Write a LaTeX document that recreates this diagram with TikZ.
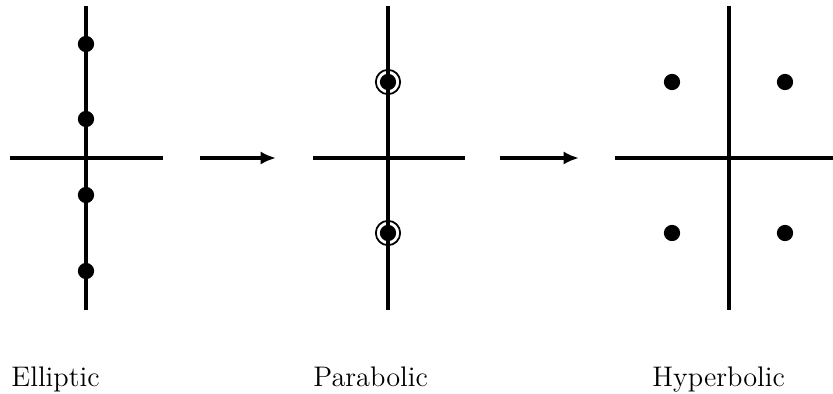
\documentclass[tikz,border=0pt]{standalone}
\usetikzlibrary{arrows.meta,positioning}

\begin{document}
\begin{tikzpicture}[x=0.016cm,y=0.016cm,
    axis/.style={line width=1.4pt},
    thickaxis/.style={line width=1.8pt},
    pole/.style={circle,fill=black,inner sep=0pt,minimum size=0.26cm},
    ring/.style={circle,draw=black,line width=0.8pt,inner sep=0pt,minimum size=0.39cm},
    flow/.style={line width=1.4pt,-{Latex[length=7pt,width=6pt]}},
    caption/.style={anchor=base west,inner sep=0pt,font=\fontsize{12.9}{15}\selectfont}]
  \useasboundingbox (0,0) rectangle (833,393);

  % Elliptic: four poles on the imaginary axis
  \draw[axis] (86,83) -- (86,387);
  \draw[axis] (10,235) -- (163,235);
  \foreach \y [count=\i] in {349,274,198,122} {
    \node[pole] (e\i) at (86,\y) {};
  }

  % Parabolic: two double poles
  \draw[axis] (388,83) -- (388,387);
  \draw[axis] (313,235) -- (465,235);
  \foreach \y [count=\i] in {311,160} {
    \node[pole] (p\i) at (388,\y) {};
    \node[ring] (r\i) at (388,\y) {};
  }

  % Hyperbolic: poles off the axes
  \draw[thickaxis] (729,83) -- (729,387);
  \draw[thickaxis] (615,235) -- (833,235);
  \node[pole] (h1) at (672,311) {};
  \node[pole] (h2) at (785,311) {};
  \node[pole] (h3) at (672,160) {};
  \node[pole] (h4) at (785,160) {};

  % Arrows between the panels
  \coordinate (a1s) at (200,235);
  \coordinate (a1e) at (276,235);
  \coordinate (a2s) at (500,235);
  \coordinate (a2e) at (579,235);
  \draw[flow] (a1s) -- (a1e);
  \draw[flow] (a2s) -- (a2e);

  % Labels
  \node[caption] (lblE) at (11,7) {Elliptic};
  \node[caption] (lblP) at (313,7) {Parabolic};
  \node[caption] (lblH) at (652,7) {Hyperbolic};
\end{tikzpicture}
\end{document}
